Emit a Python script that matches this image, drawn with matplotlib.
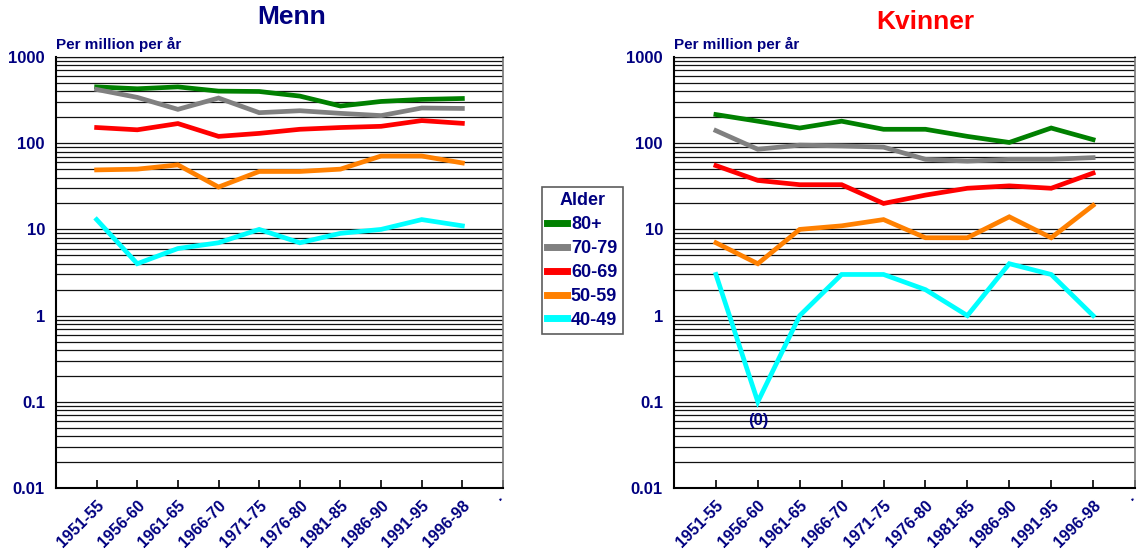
import matplotlib
matplotlib.use("Agg")
import matplotlib.pyplot as plt
from matplotlib.lines import Line2D
import numpy as np

plt.rcParams['font.family'] = ['Liberation Sans', 'DejaVu Sans']
plt.rcParams['font.weight'] = 'bold'

periods = ["1951-55", "1956-60", "1961-65", "1966-70", "1971-75",
           "1976-80", "1981-85", "1986-90", "1991-95", "1996-98"]
age_groups = ["80+", "70-79", "60-69", "50-59", "40-49"]
colors = ["#008000", "#808080", "#ff0000", "#ff8000", "#00ffff"]

# Rates per million per year, men
men_80 = [450, 428, 450, 402, 398, 352, 270, 305, 322, 330]
men_70 = [420, 340, 247, 334, 226, 238, 222, 209, 256, 253]
men_60 = [152, 143, 169, 120, 130, 145, 152, 157, 183, 170]
men_50 = [49, 50, 56, 31, 47, 47, 50, 71, 71, 59]
men_40 = [13, 4, 6, 7, 10, 7, 9, 10, 13, 11]

# Rates per million per year, women
women_80 = [215, 180, 150, 180, 145, 145, 120, 102, 150, 110]
women_70 = [140, 85, 95, 93, 90, 65, 62, 65, 65, 68]
women_60 = [55, 37, 33, 33, 20, 25, 30, 32, 30, 45]
women_50 = [7, 4, 10, 11, 13, 8, 8, 14, 8, 19]
women_40 = [3, 0, 1, 3, 3, 2, 1, 4, 3, 1]

# zero rates are drawn at this floor on the log axis and marked "(0)"
zero_floor = 0.1

navy = "#000080"


def draw_panel(ax, series, title, title_color, title_x, title_y):
    x = np.arange(1, len(periods) + 1)
    for vals, c in zip(series, colors):
        v = np.array(vals, dtype=float)
        v[v == 0] = zero_floor
        ax.plot(x, v, color=c, lw=3.4, solid_joinstyle='miter', zorder=3)
        for xi, raw in zip(x, vals):
            if raw == 0:
                ax.text(xi, zero_floor * 0.75, "(0)", ha='center', va='top',
                        color=navy, fontsize=12, fontweight='bold')
    ax.set_yscale('log')
    ax.set_ylim(0.01, 1000)
    ax.set_xlim(0, len(periods) + 1)

    # horizontal grid at every log step
    for dec in [0.01, 0.1, 1, 10, 100]:
        for m in range(1, 10):
            ax.axhline(dec * m, color='#111111', lw=0.9, zorder=1)
    ax.axhline(1000, color='#111111', lw=1.0, zorder=1)

    ax.set_yticks([0.01, 0.1, 1, 10, 100, 1000])
    ax.set_yticklabels(["0.01", "0.1", "1", "10", "100", "1000"])
    ax.yaxis.set_minor_locator(matplotlib.ticker.NullLocator())
    ax.tick_params(axis='y', length=0, pad=8, labelsize=12, labelcolor=navy)

    ax.set_xticks(list(x) + [len(periods) + 1])
    ax.set_xticklabels(periods + ["."], rotation=45, ha='right',
                       rotation_mode='anchor')
    ax.tick_params(axis='x', direction='in', length=6, width=1.2,
                   labelsize=11.5, labelcolor=navy, pad=7)
    for lab in ax.get_xticklabels() + ax.get_yticklabels():
        lab.set_fontweight('bold')
    ax.get_xticklabels()[-1].set_verticalalignment('baseline')

    ax.spines['left'].set_linewidth(1.5)
    ax.spines['bottom'].set_linewidth(1.5)
    ax.spines['top'].set_color('#111111')
    ax.spines['right'].set_color('#777777')
    ax.spines['right'].set_linewidth(1.2)

    ax.text(0.0, 1.012, "Per million per år", transform=ax.transAxes,
            ha='left', va='bottom', color=navy, fontsize=11, fontweight='bold')
    ax.text(title_x, title_y, title, transform=ax.transAxes, ha='center',
            va='center', color=title_color, fontsize=19, fontweight='bold')


fig = plt.figure(figsize=(11.38, 5.53), dpi=100)
ax1 = fig.add_axes([56 / 1138, 1 - 488 / 553, (503 - 56) / 1138, (488 - 57) / 553])
ax2 = fig.add_axes([674 / 1138, 1 - 488 / 553, (1135 - 674) / 1138, (488 - 57) / 553])

draw_panel(ax1, [men_80, men_70, men_60, men_50, men_40], "Menn", navy,
           0.527, 1.092)
draw_panel(ax2, [women_80, women_70, women_60, women_50, women_40], "Kvinner",
           "#ff0000", 0.545, 1.082)

handles = [Line2D([0], [0], color=c, lw=5) for c in colors]
leg = fig.legend(handles, age_groups, title="Alder",
                 loc='upper left', bbox_to_anchor=(542 / 1138, 1 - 187 / 553),
                 frameon=True, fancybox=False, shadow=False,
                 handlelength=1.1, handletextpad=0.2, labelspacing=0.38,
                 borderpad=0.3, borderaxespad=0,
                 prop={'weight': 'bold', 'size': 13})
leg.get_frame().set_edgecolor('#333333')
leg.get_frame().set_linewidth(1.2)
for t in leg.get_texts():
    t.set_color(navy)
leg.get_title().set_color(navy)
leg.get_title().set_fontweight('bold')
leg.get_title().set_fontsize(13)

fig.savefig("out.png", dpi=100)
